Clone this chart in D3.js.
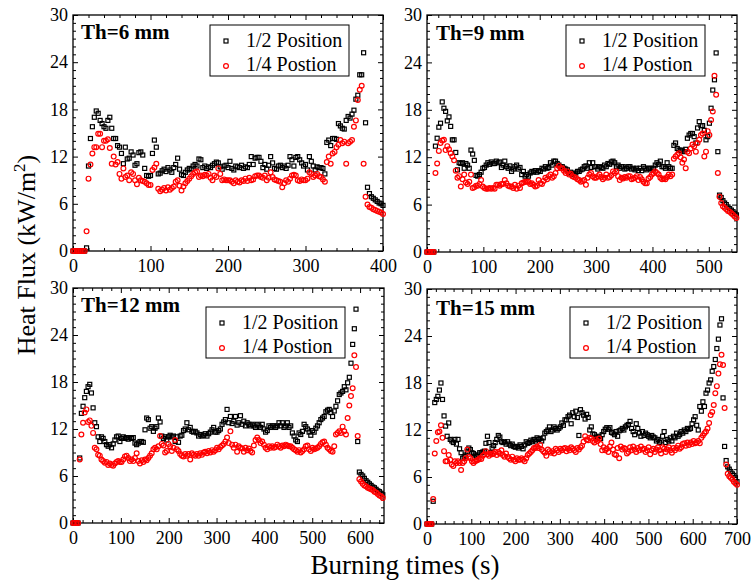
<!DOCTYPE html>
<html>
<head>
<meta charset="utf-8">
<script src="https://cdn.jsdelivr.net/npm/d3@7"></script>
<style>
  body { margin: 0; background: #fff; }
  svg { font-family: 'Liberation Serif', 'Times New Roman', serif; }
</style>
</head>
<body>
<div id="chart"></div>
<script>
// ---- data ----
const panelTitles = ['Th=6 mm', 'Th=9 mm', 'Th=12 mm', 'Th=15 mm'];
const seriesNames = ['1/2 Position', '1/4 Postion'];
const xMax = [400, 550, 650, 700];
const xTickValues = [
  [0, 100, 200, 300, 400],
  [0, 100, 200, 300, 400, 500],
  [0, 100, 200, 300, 400, 500, 600],
  [0, 100, 200, 300, 400, 500, 600, 700]
];
const yTickValues = [0, 6, 12, 18, 24, 30];
// logger sampling interval of each run (s)
const sampleStep = [2.5, 3, 3.5, 3.5];

const th6Half = [
  0,0,0,0,0,0,0,0.4,10.8,14.3,
  15.8,17.0,17.8,17.5,16.6,16.2,15.8,15.6,16.6,17.0,
  15.6,14.3,14.3,13.4,13.2,12.4,11.1,13.2,11.7,11.8,
  12.6,12.2,10.9,11.1,12.5,12.6,12.2,10.5,9.6,9.5,
  9.6,12.4,14.1,13.2,9.8,9.9,10.2,10.4,10.1,10.6,
  10.3,10.0,10.6,11.0,11.8,10.4,9.7,9.6,10.0,10.3,
  10.5,10.4,10.8,11.0,10.8,11.7,11.6,10.6,10.8,10.5,
  10.7,10.6,10.9,11.1,11.3,11.2,10.7,10.4,10.8,10.9,
  10.6,11.4,10.5,10.3,10.8,10.7,10.6,10.9,10.5,10.7,
  10.6,11.0,12.0,11.0,11.8,11.9,11.9,11.4,10.6,11.0,
  10.4,10.9,12.0,11.2,10.5,10.4,10.8,10.9,10.6,10.8,
  10.5,10.9,12.0,11.6,10.8,11.9,12.0,11.6,11.2,10.8,
  11.0,10.3,12.0,11.4,10.8,10.3,10.7,10.6,10.6,10.5,
  9.8,13.8,14.1,13.4,14.3,14.3,14.2,16.2,15.9,15.6,
  15.5,16.6,17.1,16.9,17.4,17.9,19.3,19.8,22.4,22.4,
  25.2,16.3,8.1,7.3,6.9,6.7,6.5,6.3,6.1,6.0,
  5.8
];
const th6Quarter = [
  0,0,0,0,0,0,0,2.5,9.2,11.0,
  12.4,13.2,13.2,14.9,14.9,13.2,14.0,14.0,14.2,13.1,
  11.1,12.0,11.0,11.3,9.8,9.2,10.5,9.4,9.6,9.0,
  10.0,9.8,9.0,8.5,9.3,9.0,8.9,8.8,8.6,8.4,
  8.4,10.3,10.6,11.1,7.9,7.6,7.8,8.0,7.7,8.1,
  7.8,8.0,8.2,8.8,9.0,8.3,7.7,8.2,8.6,8.9,
  9.2,9.5,9.8,10.0,10.1,9.4,9.6,9.5,9.7,9.6,
  9.8,9.3,9.0,9.6,9.4,10.5,9.8,9.0,9.1,9.0,
  9.0,9.0,8.8,8.6,9.0,8.8,8.7,9.0,8.9,9.2,
  8.9,9.3,9.0,9.1,9.5,9.6,9.6,9.4,9.3,9.6,
  9.0,9.3,10.0,9.4,9.1,9.0,8.9,8.8,8.1,8.6,
  9.0,8.8,9.2,9.6,9.7,9.6,9.0,8.9,9.1,9.0,
  9.0,9.2,10.0,9.8,9.4,9.6,9.8,9.5,9.4,9.1,
  8.8,11.3,12.0,11.1,12.4,12.6,13.2,13.5,14.1,13.7,
  13.9,11.1,13.7,13.9,14.1,15.8,16.6,19.2,20.5,21.0,
  11.1,6.9,5.9,5.6,5.5,5.3,5.2,5.1,5.0,4.9,
  4.7
];
const th9Half = [
  0,0,0,0,0,13.4,14.4,15.8,16.3,19.0,
  18.2,17.8,16.6,17.1,15.9,14.2,14.2,12.6,10.4,11.3,
  11.2,11.3,10.6,11.2,11.0,10.6,12.9,12.4,11.6,9.7,
  9.6,9.8,10.1,10.6,10.7,11.0,11.3,11.1,11.4,11.2,
  11.2,11.5,11.3,11.4,10.7,11.0,11.5,10.8,10.6,10.9,
  10.2,10.5,10.8,11.0,10.5,10.7,9.8,10.2,9.6,9.8,
  9.6,10.0,10.2,10.1,10.3,10.1,10.3,10.2,10.6,10.5,
  10.8,10.6,10.7,11.3,11.0,11.5,11.5,11.2,11.0,10.8,
  10.8,10.6,10.5,10.4,10.0,10.1,9.8,9.9,10.0,10.2,
  10.2,10.4,10.5,10.8,10.9,10.6,11.3,10.7,11.3,10.8,
  10.8,10.5,10.8,10.7,10.6,11.0,10.8,11.2,11.1,11.4,
  11.5,11.3,10.8,11.0,10.6,10.8,10.8,10.5,10.6,10.8,
  10.8,10.5,10.6,10.4,10.6,10.3,10.6,10.3,10.8,10.6,
  10.4,10.6,10.6,10.5,10.6,11.0,11.3,11.1,11.5,10.8,
  10.8,10.6,11.3,10.8,10.6,10.6,13.5,13.8,13.1,12.9,
  12.9,12.8,12.7,13.0,14.4,14.8,15.0,15.0,14.6,13.8,
  15.7,16.5,16.0,16.0,15.4,14.2,14.6,16.3,18.2,20.5,
  21.8,25.2,12.7,7.2,6.9,6.5,6.2,6.0,5.7,5.5,
  5.3,5.1,4.9,4.7
];
const th9Quarter = [
  0,0,0,0,0,10.0,11.2,12.8,13.8,14.1,
  14.2,12.9,13.4,13.0,12.5,12.1,11.6,10.3,9.4,9.6,
  8.3,9.2,9.8,8.8,8.6,8.9,9.8,8.1,8.2,8.4,
  8.4,8.6,9.1,8.3,8.1,8.0,8.0,8.1,8.0,8.1,
  8.0,8.5,8.5,8.4,8.6,8.6,9.1,8.7,8.4,8.3,
  8.3,8.1,8.5,8.0,8.4,8.1,8.7,8.8,8.9,8.9,
  8.9,8.6,8.7,8.5,8.3,8.4,9.1,8.7,8.6,9.0,
  9.4,9.2,9.6,9.8,9.4,9.6,10.0,10.6,10.9,10.6,
  10.6,10.3,10.0,10.2,9.8,9.9,9.6,9.5,9.4,9.2,
  9.1,8.9,9.0,9.1,8.5,9.4,9.8,10.0,9.6,9.4,
  9.4,9.6,9.8,9.5,9.2,9.4,9.8,9.4,9.5,9.7,
  10.2,10.0,10.2,9.6,9.1,9.4,9.3,9.5,9.4,9.6,
  9.6,9.2,9.3,9.4,9.6,9.1,9.5,9.2,8.9,8.7,
  8.7,9.3,9.5,9.8,10.0,10.2,10.0,9.8,9.4,9.2,
  9.3,9.2,9.5,9.8,9.6,9.8,11.8,12.1,12.3,12.5,
  12.0,11.3,11.7,10.6,12.7,12.5,13.1,13.6,13.4,12.7,
  13.8,14.2,14.8,15.0,12.1,12.7,15.3,14.8,16.7,17.8,
  22.3,19.9,10.0,7.0,6.2,5.8,5.6,5.4,5.2,5.1,
  4.9,4.7,4.5,4.3
];
const th12Half = [
  0,0,0,0,8.3,14.0,14.9,16.0,16.8,17.4,
  17.7,16.6,14.7,12.8,12.3,11.0,10.4,11.0,10.8,10.4,
  10.0,9.8,10.0,9.6,10.1,10.6,11.0,11.1,10.4,10.8,
  11.0,10.8,10.9,10.7,10.9,10.8,10.9,10.2,10.0,10.2,
  10.4,10.4,10.3,11.9,13.4,13.2,12.1,12.3,11.7,12.1,
  12.3,13.4,12.9,11.1,10.8,11.0,10.6,11.0,11.2,11.0,
  11.1,10.4,11.0,10.3,11.1,11.2,11.8,12.0,12.8,11.9,
  12.2,11.7,11.6,11.7,11.5,11.1,11.3,11.1,11.2,11.4,
  11.1,11.4,11.6,11.9,12.2,11.6,11.6,11.8,12.0,12.6,
  12.9,13.2,14.5,12.8,13.6,12.7,13.0,13.6,12.5,12.8,
  13.7,12.6,13.0,12.4,12.8,12.6,12.4,12.6,12.4,12.2,
  12.6,12.4,12.2,12.6,12.0,11.6,11.8,12.4,12.2,12.4,
  12.4,12.2,12.4,12.8,12.4,12.8,12.2,12.4,12.8,12.2,
  12.4,11.5,11.1,10.6,10.4,11.5,11.3,11.7,12.6,12.3,
  12.0,11.6,11.2,11.8,11.6,12.1,12.4,12.8,13.2,13.4,
  13.6,14.2,14.4,14.5,14.1,13.6,14.3,14.9,15.6,16.4,
  16.6,16.8,17.4,17.0,17.9,18.6,20.4,22.8,24.8,27.3,
  10.4,6.5,6.2,6.0,5.7,5.4,5.2,5.0,4.8,4.6,
  4.5,4.3,4.1,4.0,3.8,3.6
];
const th12Quarter = [
  0,0,0,0,8.1,11.3,12.8,14.1,14.5,12.9,
  13.1,12.4,11.5,9.6,9.4,8.7,8.6,8.1,7.9,7.7,
  7.8,7.4,7.6,7.4,7.3,7.6,7.8,7.9,7.8,7.8,
  8.1,8.5,8.6,8.3,7.9,8.1,7.9,8.3,8.9,7.9,
  7.6,8.0,7.8,8.1,8.0,8.3,8.6,8.9,9.4,9.6,
  9.4,9.8,11.1,10.1,9.9,9.0,9.2,10.1,9.8,9.2,
  9.6,10.6,9.4,9.2,8.8,8.6,8.5,8.8,8.6,8.8,
  8.1,8.9,8.7,8.6,8.8,8.6,8.9,8.7,9.0,9.1,
  8.9,9.2,9.0,9.3,9.1,9.3,9.6,9.4,9.7,9.9,
  10.1,10.4,10.9,10.2,11.7,10.0,9.6,10.0,9.1,9.8,
  9.6,9.5,9.1,9.6,9.3,9.5,9.2,9.0,9.9,10.6,
  10.9,10.6,10.2,10.4,10.0,9.6,9.4,9.8,9.6,9.8,
  9.6,9.7,10.0,9.8,9.6,9.9,9.8,10.0,9.9,9.8,
  9.8,9.6,9.4,9.3,9.1,9.3,9.0,9.2,9.4,9.8,
  9.9,9.4,9.2,9.6,9.4,9.5,9.6,9.8,10.1,10.3,
  10.4,10.0,9.6,9.4,9.2,9.1,9.8,11.3,11.5,11.7,
  11.5,12.3,11.7,11.3,13.4,15.0,16.2,17.2,21.4,19.9,
  11.1,5.6,5.3,5.0,4.8,4.7,4.5,4.4,4.3,4.2,
  4.0,3.9,3.7,3.5,3.4,3.2
];
const th15Half = [
  0,0,0,0,2.9,15.5,15.9,16.3,17.1,18.0,
  15.9,13.8,12.5,11.2,12.9,10.8,10.6,10.4,10.8,10.2,
  10.8,9.6,9.1,8.4,8.6,8.8,9.2,9.7,9.5,9.1,
  9.0,8.8,8.6,8.8,9.1,9.1,9.2,9.3,10.3,11.2,
  10.4,9.1,9.7,10.0,10.4,10.8,11.3,11.1,10.5,10.4,
  10.5,10.2,10.5,10.2,10.0,10.2,9.9,9.8,9.9,9.7,
  10.1,9.9,9.6,10.1,10.5,10.3,10.4,10.7,10.5,10.8,
  10.6,11.0,10.8,10.9,10.6,11.0,11.6,11.8,12.0,12.4,
  11.8,12.0,12.4,12.2,12.0,12.2,12.4,12.9,12.6,13.3,
  13.3,13.7,13.9,12.8,14.2,13.7,14.4,13.6,11.3,14.6,
  14.2,13.9,13.4,14.0,13.6,12.0,12.4,11.5,11.4,11.1,
  11.0,11.2,10.9,11.4,11.8,12.1,12.3,12.1,12.3,11.7,
  11.6,11.4,11.8,11.2,11.9,12.0,12.2,12.0,12.4,12.6,
  12.7,13.1,12.2,11.8,11.4,12.8,12.2,11.6,11.2,11.8,
  11.3,11.6,11.4,11.2,11.0,11.3,11.1,11.0,10.6,10.8,
  10.4,10.6,11.2,11.8,10.4,10.8,10.6,11.0,10.6,11.2,
  11.0,11.6,11.2,11.4,11.8,11.6,12.0,11.8,12.2,12.1,
  12.2,12.8,13.3,13.7,12.6,12.0,15.0,14.4,15.6,15.0,
  16.7,17.1,18.0,18.4,19.5,20.1,21.0,22.4,23.6,25.4,
  26.2,16.1,9.9,8.1,7.3,7.0,6.7,6.4,6.2,5.9,
  5.4
];
const th15Quarter = [
  0,0,0,0,3.2,9.0,10.6,11.7,11.8,12.6,
  11.0,9.3,8.0,8.0,8.8,8.2,7.6,7.4,8.0,7.8,
  8.0,7.8,6.9,7.8,8.0,8.4,9.5,8.6,8.4,8.0,
  7.8,8.0,8.1,8.2,8.4,8.3,8.7,8.9,9.3,8.9,
  8.7,9.0,8.9,9.0,9.2,8.8,9.2,9.0,9.4,8.8,
  8.6,9.0,8.6,8.4,8.2,8.6,8.2,8.0,8.4,8.2,
  8.2,8.4,8.2,8.0,8.4,8.8,9.0,9.2,9.4,9.7,
  9.7,9.9,9.7,10.1,9.5,9.3,9.1,8.7,9.5,9.3,
  9.1,9.3,9.0,9.6,9.4,9.2,9.6,9.4,9.6,9.7,
  9.3,9.6,9.4,9.8,9.6,9.4,9.2,9.7,9.5,9.8,
  10.0,10.5,11.2,10.8,10.7,11.0,10.9,10.6,10.4,10.8,
  10.6,10.9,10.2,9.4,9.8,9.4,9.6,9.2,9.9,10.4,
  9.5,8.9,8.8,9.7,8.4,9.9,9.5,9.7,9.6,9.0,
  9.2,9.8,9.4,9.9,9.5,9.2,9.7,9.4,9.9,9.5,
  9.6,9.2,9.4,9.8,8.9,9.4,9.6,9.2,9.5,9.8,
  9.4,9.0,9.8,9.6,9.2,9.5,9.8,9.4,9.1,9.7,
  9.4,9.7,10.0,9.6,9.8,10.2,10.3,10.0,10.4,10.1,
  10.4,10.2,10.6,10.3,10.4,10.6,10.3,11.0,11.3,11.6,
  11.8,12.2,12.9,13.9,14.3,15.2,16.7,17.6,19.2,20.4,
  21.6,20.3,14.8,7.6,6.4,6.1,5.9,5.7,5.4,5.2,
  5.0
];

const halfSeries = [th6Half, th9Half, th12Half, th15Half];
const quarterSeries = [th6Quarter, th9Quarter, th12Quarter, th15Quarter];

// ---- layout ----
const width = 753, height = 585;
const panels = [
  {x: 73, y: 15, w: 310, h: 236, legendX: 137, legendY: 10, titleX: 8, titleY: 24},
  {x: 427, y: 15, w: 310, h: 237, legendX: 139, legendY: 10, titleX: 9, titleY: 25},
  {x: 73, y: 288, w: 311, h: 235, legendX: 133, legendY: 19, titleX: 8, titleY: 24},
  {x: 427, y: 289, w: 310, h: 235, legendX: 143, legendY: 18, titleX: 9, titleY: 26}
];
const fontFamily = "'Liberation Serif', 'Times New Roman', serif";
const sq = 4;      // square marker side
const rad = 2.4;   // circle marker radius

const svg = d3.select('#chart').append('svg')
  .attr('width', width).attr('height', height);

const styleAxis = g => {
  g.select('.domain').remove();
  g.attr('font-family', fontFamily).attr('font-size', 18);
};

panels.forEach((p, i) => {
  const g = svg.append('g').attr('transform', `translate(${p.x}, ${p.y})`);
  const x = d3.scaleLinear().domain([0, xMax[i]]).range([0, p.w]);
  const y = d3.scaleLinear().domain([0, 30]).range([p.h, 0]);

  const xMinor = d3.range(0, xMax[i] + 1, 20).filter(v => v % 100 !== 0);
  const yMinor = d3.range(0, 31, 1).filter(v => v % 6 !== 0);

  // major + minor ticks, pointing inward, on all four sides
  g.append('g').attr('transform', `translate(0, ${p.h})`)
    .call(d3.axisBottom(x).tickValues(xTickValues[i]).tickSize(-5).tickPadding(8))
    .call(styleAxis);
  g.append('g').attr('transform', `translate(0, ${p.h})`)
    .call(d3.axisBottom(x).tickValues(xMinor).tickSize(-3).tickFormat(''))
    .call(styleAxis);
  g.append('g')
    .call(d3.axisTop(x).tickValues(xTickValues[i]).tickSize(-5).tickFormat(''))
    .call(styleAxis);
  g.append('g')
    .call(d3.axisTop(x).tickValues(xMinor).tickSize(-3).tickFormat(''))
    .call(styleAxis);
  g.append('g')
    .call(d3.axisLeft(y).tickValues(yTickValues).tickSize(-5).tickPadding(5))
    .call(styleAxis);
  g.append('g')
    .call(d3.axisLeft(y).tickValues(yMinor).tickSize(-3).tickFormat(''))
    .call(styleAxis);
  g.append('g').attr('transform', `translate(${p.w}, 0)`)
    .call(d3.axisRight(y).tickValues(yTickValues).tickSize(-5).tickFormat(''))
    .call(styleAxis);
  g.append('g').attr('transform', `translate(${p.w}, 0)`)
    .call(d3.axisRight(y).tickValues(yMinor).tickSize(-3).tickFormat(''))
    .call(styleAxis);

  g.append('rect')
    .attr('width', p.w).attr('height', p.h)
    .attr('fill', 'none').attr('stroke', '#000').attr('stroke-width', 1.3);

  const dt = sampleStep[i];

  g.append('g').selectAll('rect')
    .data(halfSeries[i])
    .join('rect')
    .attr('x', (d, k) => x(k * dt) - sq / 2)
    .attr('y', d => y(d) - sq / 2)
    .attr('width', sq).attr('height', sq)
    .attr('fill', 'none').attr('stroke', '#000').attr('stroke-width', 1.2);

  g.append('g').selectAll('circle')
    .data(quarterSeries[i])
    .join('circle')
    .attr('cx', (d, k) => x(k * dt))
    .attr('cy', d => y(d))
    .attr('r', rad)
    .attr('fill', 'none').attr('stroke', '#ff0000').attr('stroke-width', 1.2);

  // panel label
  g.append('text')
    .attr('x', p.titleX).attr('y', p.titleY)
    .attr('font-family', fontFamily).attr('font-size', 21).attr('font-weight', 'bold')
    .text(panelTitles[i]);

  // legend
  const lg = g.append('g').attr('transform', `translate(${p.legendX}, ${p.legendY})`);
  lg.append('rect')
    .attr('width', 139).attr('height', 51)
    .attr('fill', '#fff').attr('stroke', '#000').attr('stroke-width', 1);
  lg.append('rect')
    .attr('x', 16 - sq / 2).attr('y', 16 - sq / 2).attr('width', sq).attr('height', sq)
    .attr('fill', 'none').attr('stroke', '#000').attr('stroke-width', 1.2);
  lg.append('circle')
    .attr('cx', 16).attr('cy', 41).attr('r', rad)
    .attr('fill', 'none').attr('stroke', '#ff0000').attr('stroke-width', 1.2);
  lg.selectAll('text.lab')
    .data(seriesNames)
    .join('text')
    .attr('class', 'lab')
    .attr('x', 36).attr('y', (d, k) => 22 + k * 24)
    .attr('font-family', fontFamily).attr('font-size', 20)
    .text(d => d);
});

// axis titles
const yTitle = svg.append('text')
  .attr('transform', 'translate(35, 255) rotate(-90)')
  .attr('text-anchor', 'middle')
  .attr('font-family', fontFamily).attr('font-size', 26);
yTitle.append('tspan').text('Heat Flux (kW/m');
yTitle.append('tspan').attr('dy', -10).attr('font-size', 17).text('2');
yTitle.append('tspan').attr('dy', 10).text(')');

svg.append('text')
  .attr('x', 405).attr('y', 574)
  .attr('text-anchor', 'middle')
  .attr('font-family', fontFamily).attr('font-size', 27)
  .text('Burning times (s)');
</script>
</body>
</html>
